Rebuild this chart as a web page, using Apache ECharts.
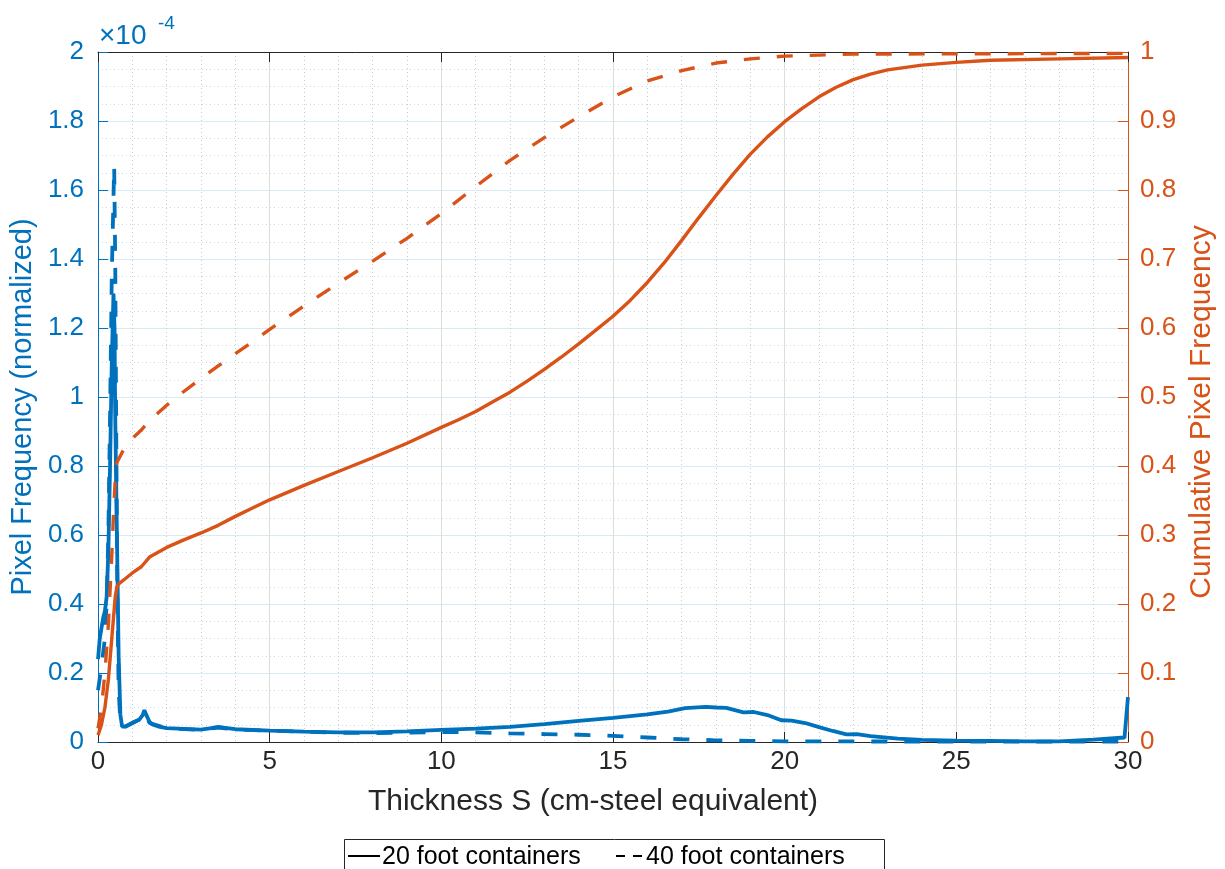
<!DOCTYPE html>
<html>
<head>
<meta charset="utf-8">
<script src="https://cdn.jsdelivr.net/npm/echarts@6/dist/echarts.min.js"></script>
<style>
html,body{margin:0;padding:0;background:#fff;}
#chart{width:1225px;height:869px;}
</style>
</head>
<body>
<div id="chart"></div>
<script>
// ---- Data (left axis values in units of 1e-4) ----
const freq20X = [0,0.05,0.1,0.15,0.2,0.25,0.3,0.35,0.4,0.45,0.48,0.5,0.55,0.6,0.65,0.7,0.8,0.9,1.0,1.1,1.2,1.3,1.35,1.4,1.5,1.6,1.8,2.0,2.5,3.0,3.3,3.5,3.7,4.0,5,6,7,8,9,10,11,12,13,14,15,16,16.6,17.1,17.7,18.0,18.3,18.8,19.1,19.5,19.9,20.2,20.6,21,21.4,21.8,22.1,22.5,23.3,24,25,26,27,28,29,29.9,30];
const freq20Y = [0.24,0.30,0.33,0.36,0.38,0.42,0.55,0.8,1.1,1.3,1.2,0.95,0.6,0.25,0.08,0.045,0.045,0.05,0.055,0.06,0.065,0.078,0.092,0.08,0.058,0.05,0.044,0.04,0.038,0.036,0.04,0.044,0.041,0.037,0.033,0.03,0.028,0.028,0.031,0.035,0.039,0.044,0.052,0.061,0.07,0.08,0.088,0.098,0.102,0.1,0.099,0.086,0.087,0.078,0.063,0.062,0.055,0.043,0.032,0.022,0.023,0.017,0.01,0.006,0.004,0.003,0.002,0.002,0.007,0.013,0.13];
const freq40X = [0,0.1,0.2,0.25,0.3,0.35,0.4,0.47,0.5,0.53,0.56,0.6,0.65,0.7,0.8,1.0,1.2,1.35,1.5,2,3,3.5,4,5,6,7,8,9,10,11,12,13,14,15,16,17,18,19,20,25,29.9,30];
const freq40Y = [0.15,0.22,0.3,0.4,0.6,0.95,1.35,1.67,1.4,0.9,0.45,0.15,0.06,0.045,0.045,0.055,0.065,0.085,0.055,0.04,0.035,0.042,0.036,0.033,0.03,0.027,0.026,0.027,0.029,0.028,0.025,0.023,0.021,0.018,0.013,0.008,0.005,0.003,0.002,0.001,0.001,0.02];
const cum20X = [0,0.1,0.2,0.3,0.4,0.5,0.55,0.62,0.8,1.0,1.26,1.5,2,2.5,3,3.5,4,4.5,5,6,7,8,9,10,10.5,11,11.5,12,12.5,13,13.5,14,14.5,15,15.5,16,16.5,17,17.5,18,18.5,19,19.5,20,20.5,21,21.5,22,22.5,23,24,25,26,28,30];
const cum20Y = [0.01,0.025,0.05,0.09,0.15,0.21,0.225,0.23,0.237,0.245,0.254,0.268,0.282,0.293,0.303,0.314,0.327,0.339,0.351,0.372,0.392,0.412,0.433,0.456,0.467,0.479,0.493,0.507,0.523,0.54,0.558,0.577,0.597,0.617,0.64,0.666,0.695,0.727,0.76,0.792,0.823,0.852,0.877,0.899,0.918,0.935,0.949,0.96,0.968,0.974,0.981,0.985,0.988,0.99,0.992];
const cum40X = [0,0.1,0.2,0.3,0.4,0.45,0.5,0.55,0.6,0.77,1.0,1.26,1.5,2,2.5,3,3.5,4,4.5,5,6,7,8,9,10,11,12,13,14,15,16,17,18,19,20,22,30];
const cum40Y = [0.02,0.05,0.1,0.17,0.27,0.33,0.38,0.405,0.41,0.426,0.44,0.452,0.466,0.488,0.508,0.527,0.545,0.563,0.58,0.598,0.632,0.665,0.697,0.73,0.766,0.805,0.843,0.876,0.906,0.935,0.958,0.973,0.984,0.99,0.994,0.997,0.998];
const legendNames = ['20 foot containers', '40 foot containers'];
const exponentText = ['×10', '-4'];

const BLUE = '#0072BD', ORANGE = '#D95319', DARK = '#262626';
const FONT = '"Liberation Sans", Arial, Helvetica, sans-serif';
const pairs = (xs, ys) => xs.map((x, i) => [x, ys[i]]);

const chart = echarts.init(document.getElementById('chart'), null, {renderer: 'canvas'});
const option = {
  animation: false,
  backgroundColor: '#fff',
  textStyle: {fontFamily: FONT},
  grid: {left: 97, right: 95, top: 52, bottom: 127, containLabel: false},
  xAxis: [{
    type: 'value', position: 'bottom', min: 0, max: 30, interval: 5,
    name: 'Thickness S (cm-steel equivalent)', nameLocation: 'middle', nameGap: 45,
    nameTextStyle: {color: DARK, fontSize: 30, fontFamily: FONT, padding: [0, 40, 0, 0]},
    axisLine: {show: true, onZero: false, lineStyle: {color: DARK, width: 1}},
    axisTick: {show: true, inside: true, length: 10, lineStyle: {color: DARK}},
    axisLabel: {color: DARK, fontSize: 26, margin: 7, fontFamily: FONT},
    splitLine: {show: true, lineStyle: {color: '#DEDEDE', width: 1}},
    minorTick: {show: false, splitNumber: 5},
    minorSplitLine: {show: true, lineStyle: {color: '#C9C9C9', width: 1, type: [1, 3]}}
  }, {
    type: 'value', position: 'top', min: 0, max: 30, interval: 5,
    axisLine: {show: true, onZero: false, lineStyle: {color: DARK, width: 1}},
    axisTick: {show: true, inside: true, length: 10, lineStyle: {color: DARK}},
    axisLabel: {show: false}, splitLine: {show: false}
  }],
  yAxis: [{
    type: 'value', position: 'left', min: 0, max: 2, interval: 0.2,
    name: 'Pixel Frequency (normalized)', nameLocation: 'middle', nameGap: 55, nameRotate: 90,
    nameTextStyle: {color: BLUE, fontSize: 29, fontFamily: FONT, padding: [0, 20, 0, 0]},
    axisLine: {show: true, onZero: false, lineStyle: {color: BLUE, width: 1}},
    axisTick: {show: true, inside: true, length: 10, lineStyle: {color: BLUE}},
    axisLabel: {color: BLUE, fontSize: 26, margin: 14, fontFamily: FONT},
    splitLine: {show: true, lineStyle: {color: '#D9EAF5', width: 1}},
    minorTick: {show: false, splitNumber: 4},
    minorSplitLine: {show: true, lineStyle: {color: '#BFDCEF', width: 1, type: [1, 3]}}
  }, {
    type: 'value', position: 'right', min: 0, max: 1, interval: 0.1,
    name: 'Cumulative Pixel Frequency', nameLocation: 'middle', nameGap: 58, nameRotate: 90,
    nameTextStyle: {color: ORANGE, fontSize: 30, fontFamily: FONT, padding: [0, 30, 0, 0]},
    axisLine: {show: true, onZero: false, lineStyle: {color: ORANGE, width: 1}},
    axisTick: {show: true, inside: true, length: 10, lineStyle: {color: ORANGE}},
    axisLabel: {color: ORANGE, fontSize: 26, margin: 12, fontFamily: FONT},
    splitLine: {show: false}
  }],
  graphic: [
    {type: 'text', x: 99, y: 22, z: 10,
     style: {text: exponentText[0], fontSize: 28, fill: BLUE, fontFamily: FONT, verticalAlign: 'top'}},
    {type: 'text', x: 158, y: 14, z: 10,
     style: {text: exponentText[1], fontSize: 19, fill: BLUE, fontFamily: FONT, verticalAlign: 'top'}},
    // legend box (extends past the bottom edge as in the reference)
    {type: 'rect', z: 10, shape: {x: 344.5, y: 839.5, width: 540, height: 60},
     style: {fill: '#fff', stroke: DARK, lineWidth: 1}},
    {type: 'line', z: 11, shape: {x1: 348, y1: 856, x2: 380, y2: 856},
     style: {stroke: '#000', lineWidth: 2}},
    {type: 'text', z: 11, x: 382, y: 857,
     style: {text: legendNames[0], fontSize: 25, fill: '#000', fontFamily: FONT, verticalAlign: 'middle'}},
    {type: 'line', z: 11, shape: {x1: 616, y1: 856, x2: 642, y2: 856},
     style: {stroke: '#000', lineWidth: 2, lineDash: [9, 8]}},
    {type: 'text', z: 11, x: 646, y: 857,
     style: {text: legendNames[1], fontSize: 25, fill: '#000', fontFamily: FONT, verticalAlign: 'middle'}}
  ],
  series: [
    {name: '20 ft freq', type: 'line', xAxisIndex: 0, yAxisIndex: 0, data: pairs(freq20X, freq20Y),
     showSymbol: false, symbol: 'none', z: 2,
     lineStyle: {color: BLUE, width: 3.8}},
    {name: '40 ft freq', type: 'line', xAxisIndex: 0, yAxisIndex: 0, data: pairs(freq40X, freq40Y),
     showSymbol: false, symbol: 'none', z: 2,
     lineStyle: {color: BLUE, width: 3.8, type: [16, 17]}},
    {name: '20 ft cum', type: 'line', xAxisIndex: 0, yAxisIndex: 1, data: pairs(cum20X, cum20Y),
     showSymbol: false, symbol: 'none', z: 3,
     lineStyle: {color: ORANGE, width: 3.4}},
    {name: '40 ft cum', type: 'line', xAxisIndex: 0, yAxisIndex: 1, data: pairs(cum40X, cum40Y),
     showSymbol: false, symbol: 'none', z: 3,
     lineStyle: {color: ORANGE, width: 3.4, type: [16, 17]}}
  ]
};
chart.setOption(option);
</script>
</body>
</html>
